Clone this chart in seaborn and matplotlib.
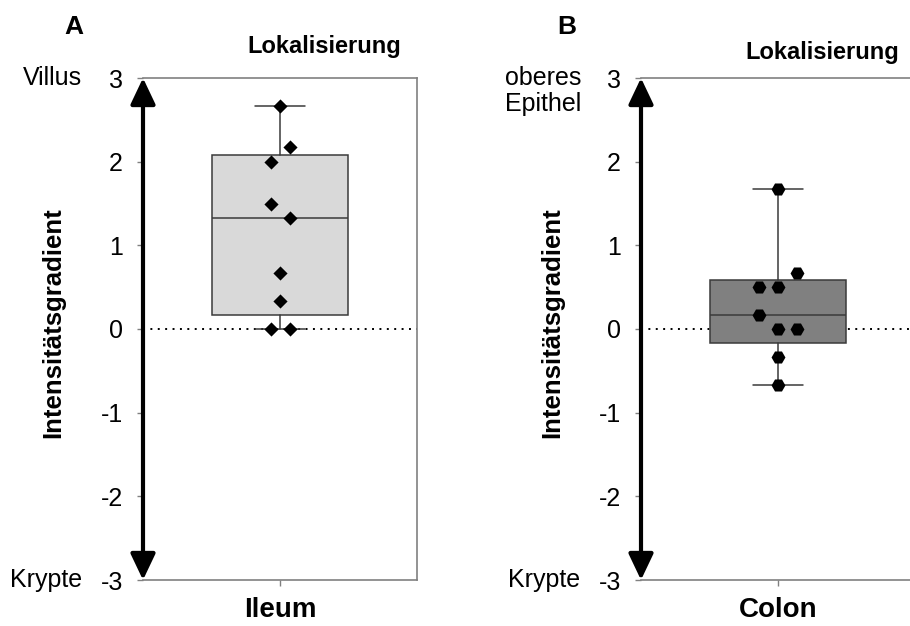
import numpy as np
import pandas as pd
import matplotlib
matplotlib.use("Agg")
import matplotlib.pyplot as plt
import seaborn as sns

# ---------------- data ----------------
ileum_values = [0.0, 0.0, 0.33, 0.67, 1.33, 1.5, 2.0, 2.17, 2.67]
ileum_lanes = [-1, 1, 0, 0, 1, -1, -1, 1, 0]
colon_values = [-0.67, -0.33, 0.0, 0.0, 0.17, 0.5, 0.5, 0.67, 1.67]
colon_lanes = [0, 0, 0, 2, -2, -2, 0, 2, 0]
y_ticks = [-3, -2, -1, 0, 1, 2, 3]
panel_letters = ["A", "B"]
group_names = ["Ileum", "Colon"]
title_text = "Lokalisierung"
ylabel_text = "Intensitätsgradient"
top_labels = ["Villus", "oberes\nEpithel"]
bottom_label = "Krypte"

sns.set_theme(style="white")
plt.rcParams["font.family"] = ["Liberation Sans", "DejaVu Sans"]
plt.rcParams["text.color"] = "black"
plt.rcParams["axes.labelcolor"] = "black"
plt.rcParams["xtick.color"] = "black"
plt.rcParams["ytick.color"] = "black"

W, H = 910, 626
fig = plt.figure(figsize=(W / 100, H / 100), dpi=100)


def ftext(x, y, s, **kw):
    return fig.text(x / W, 1 - y / H, s, color="black", **kw)


LANE = 9.5 / 274.0
FRAME = "#808080"
EDGE = "#3a3a3a"


def draw_panel(left_px, values, lanes, marker, msize, face, name):
    ax = fig.add_axes([left_px / W, 46 / H, 274 / W, 502 / H])
    ax.set_xlim(-0.5, 0.5)
    ax.set_ylim(-3, 3)
    # zero reference line
    ax.axhline(0, color="black", lw=1.4, ls=(0, (1, 2.8)), zorder=1)
    # box plot with exclusive (n+1) quartiles
    v = np.asarray(values)
    q1, med, q3 = np.percentile(v, [25, 50, 75], method="weibull")
    st = dict(med=med, q1=q1, q3=q3, whislo=v.min(), whishi=v.max(), fliers=[])
    ax.bxp([st], positions=[0], widths=0.494, capwidths=0.186, patch_artist=True,
           showfliers=False, manage_ticks=False,
           boxprops=dict(facecolor=face, edgecolor=EDGE, lw=1.1),
           medianprops=dict(color=EDGE, lw=1.1),
           whiskerprops=dict(color=EDGE, lw=1.1),
           capprops=dict(color=EDGE, lw=1.1), zorder=2)
    df = pd.DataFrame({"x": np.asarray(lanes) * LANE, "y": values})
    sns.scatterplot(data=df, x="x", y="y", marker=marker, s=msize, color="black",
                    edgecolor="black", linewidth=0, ax=ax, zorder=3, legend=False)
    ax.set_xlabel("")
    ax.set_ylabel("")
    # frame
    for side in ["top", "right", "bottom"]:
        ax.spines[side].set_visible(True)
        ax.spines[side].set_color(FRAME)
        ax.spines[side].set_linewidth(1.2)
    ax.spines["left"].set_visible(False)
    ax.set_yticks(y_ticks)
    ax.set_yticklabels([str(t) for t in y_ticks], fontsize=18, color="black")
    ax.set_xticks([0])
    ax.set_xticklabels([name], fontsize=20, fontweight="bold", color="black")
    ax.tick_params(axis="y", left=True, direction="out", length=4.5, width=1,
                   color=FRAME, pad=10)
    ax.tick_params(axis="x", bottom=True, direction="out", length=4.5, width=1,
                   color=FRAME, pad=8)
    # double-headed arrow on the left
    ax.annotate("", xy=(0, 3), xytext=(0, -3), xycoords=("axes fraction", "data"),
                textcoords=("axes fraction", "data"),
                arrowprops=dict(arrowstyle="<|-|>,head_length=0.8,head_width=0.38",
                                lw=3, color="black", mutation_scale=20,
                                shrinkA=0, shrinkB=0),
                annotation_clip=False, zorder=5)
    return ax


axA = draw_panel(143, ileum_values, ileum_lanes, "D", 52, "#d9d9d9", group_names[0])
axB = draw_panel(641, colon_values, colon_lanes, "H", 100, "#808080", group_names[1])

# texts
ftext(74, 27, panel_letters[0], fontsize=19, fontweight="bold", ha="center", va="center")
ftext(567, 27, panel_letters[1], fontsize=19, fontweight="bold", ha="center", va="center")
ftext(324, 47, title_text, fontsize=17, fontweight="bold", ha="center", va="center")
ftext(822, 52, title_text, fontsize=17, fontweight="bold", ha="center", va="center")
ftext(53, 323, ylabel_text, fontsize=18.5, fontweight="bold", ha="center", va="center", rotation=90)
ftext(552, 323, ylabel_text, fontsize=18.5, fontweight="bold", ha="center", va="center", rotation=90)
ftext(82, 78, top_labels[0], fontsize=18, ha="right", va="center")
ftext(82, 580, bottom_label, fontsize=18, ha="right", va="center")
ftext(505, 66, top_labels[1], fontsize=18, ha="left", va="top", linespacing=1.08)
ftext(580, 580, bottom_label, fontsize=18, ha="right", va="center")

fig.savefig("out.png", dpi=100)
